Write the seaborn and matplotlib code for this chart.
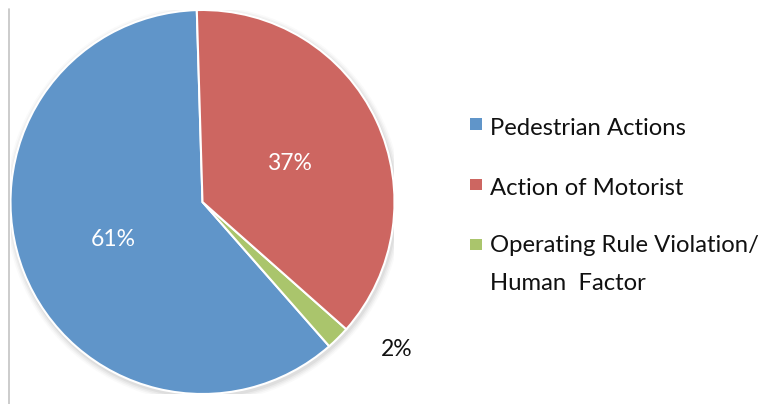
import matplotlib
matplotlib.use("Agg")
import matplotlib.pyplot as plt
from matplotlib.patches import Circle, Rectangle
from matplotlib.lines import Line2D
import seaborn as sns

# Share of incidents by contributing cause
categories = ["Pedestrian Actions", "Action of Motorist",
              "Operating Rule Violation/\nHuman  Factor"]
shares = [61, 37, 2]
colors = ["#6095C9", "#CD6661", "#AAC56C"]

sns.set_theme(style="white")
plt.rcParams["font.family"] = ["Lato", "DejaVu Sans"]

W, H = 766, 404
fig = plt.figure(figsize=(W / 100, H / 100), dpi=100)
fig.patch.set_facecolor("white")

# pie geometry in pixels
cx, cy, r = 202.5, 202.0, 192.0
ax = fig.add_axes([(cx - r) / W, (H - cy - r) / H, 2 * r / W, 2 * r / H])

# drawing order around the circle: blue, green, red (counter-clockwise)
order = [0, 2, 1]
vals = [shares[i] for i in order]
cols = [colors[i] for i in order]

# soft shadow under the pie
for k, a in enumerate([0.10, 0.08, 0.06, 0.04]):
    ax.add_patch(Circle((0.006, -0.012), 1.0 + 0.008 * (k + 1), color="#808080",
                        alpha=a, lw=0, zorder=0))

wedges, texts, autotexts = ax.pie(
    vals, colors=cols, startangle=91.7, counterclock=True,
    autopct=lambda p: f"{p:.0f}%", pctdistance=0.5,
    wedgeprops=dict(edgecolor="white", linewidth=1.5),
    textprops=dict(color="white", fontsize=16.5),
)
for w in wedges:
    w.set_zorder(2)

# the small slice gets its label outside the pie, in dark text
small = order.index(2)
autotexts[small].set_position((1.01, -0.76))
autotexts[small].set_color("#111111")
for t in autotexts:
    t.set_zorder(5)
    t.set_clip_on(False)
    t.set_verticalalignment("center_baseline")

ax.set_xlim(-1, 1)
ax.set_ylim(-1, 1)
ax.set_aspect("equal")
ax.axis("off")

# legend: square swatches with labels (text anchored on its last line)
x_sq, x_txt = 470, 490.5
first_lines = [135, 195, 255]
last_lines = [135, 195, 289.5]
for lab, col, b1, b2 in zip(categories, colors, first_lines, last_lines):
    fig.add_artist(Rectangle((x_sq / W, (H - b1 + 5) / H), 11.5 / W, 11.5 / H,
                             transform=fig.transFigure, facecolor=col,
                             edgecolor="none"))
    fig.text(x_txt / W, (H - b2) / H, lab, fontsize=17.2, color="#111111",
             ha="left", va="baseline", linespacing=1.95)

# thin frame line on the left edge
fig.add_artist(Line2D([9.3 / W, 9.3 / W], [0, (H - 9) / H],
                      transform=fig.transFigure, color="#c4c4c4", lw=1.2))

fig.savefig("out.png", dpi=100, facecolor="white")
